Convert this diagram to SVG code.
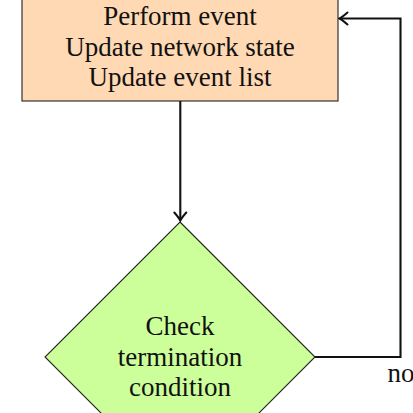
<svg xmlns="http://www.w3.org/2000/svg" width="413" height="413" viewBox="0 0 413 413">
<style>
text { font-family: "Liberation Serif", "Times New Roman", serif; font-size: 27px; fill: #111; text-anchor: middle; }
.conn { fill: none; stroke: #111; stroke-width: 2.1; }
.node { stroke: #222; stroke-width: 1.1; }
</style>
<defs>
<marker id="arr" markerUnits="userSpaceOnUse" markerWidth="16" markerHeight="16" viewBox="-10 -8 12 16" refX="0" refY="0" orient="auto">
<path d="M -8 -6 Q -2.5 -1.2 0 0 Q -2.5 1.2 -8 6" fill="none" stroke="#111" stroke-width="2" stroke-linecap="round"/>
</marker>
</defs>
<rect width="413" height="413" fill="#ffffff"/>
<g id="connectors">
<line class="conn" x1="180.3" y1="101" x2="180.3" y2="220.5" marker-end="url(#arr)"/>
<polyline class="conn" points="314.5,357 400.5,357 400.5,18.5 339.5,18.5" marker-end="url(#arr)"/>
<text x="387.5" y="381.7" style="text-anchor:start">no</text>
</g>
<g id="process">
<rect class="node" x="22" y="-10" width="316" height="111" fill="#ffd9b3"/>
<text x="180" y="25">Perform event</text>
<text x="180" y="55.5">Update network state</text>
<text x="180" y="86">Update event list</text>
</g>
<g id="check">
<polygon class="node" points="180,222 315,357 180,492 45,357" fill="#ccff99"/>
<text x="180" y="335">Check</text>
<text x="180" y="365.5">termination</text>
<text x="180" y="396">condition</text>
</g>
</svg>
